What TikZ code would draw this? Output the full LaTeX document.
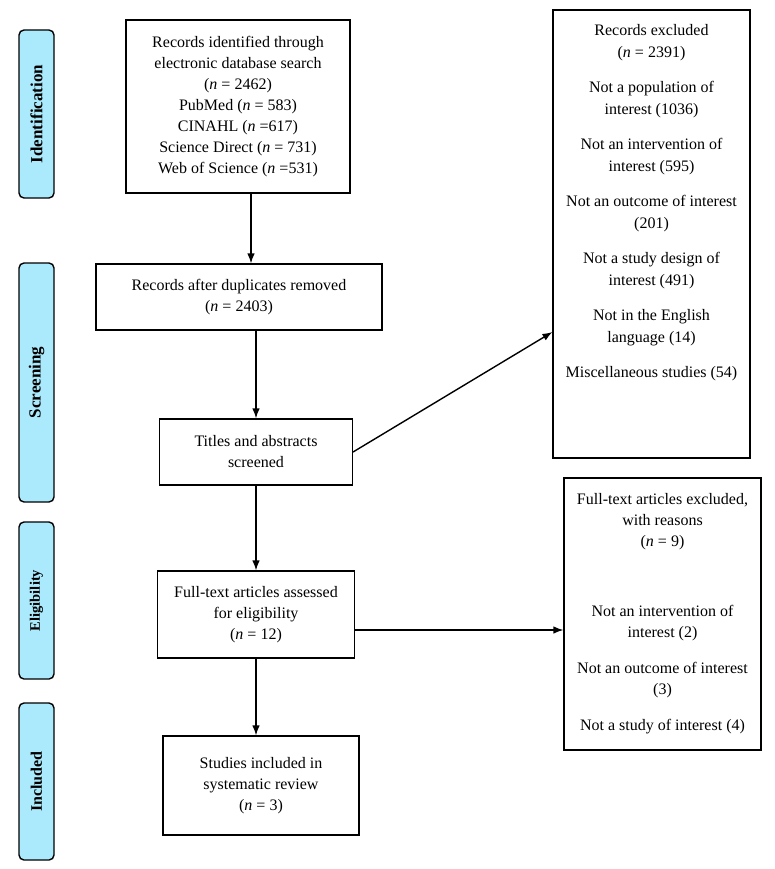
\documentclass[tikz,border=0pt]{standalone}
\usepackage{fontspec}
\setmainfont{Liberation Serif}
\usetikzlibrary{calc,arrows.meta}
\definecolor{phasefill}{RGB}{170,234,252}
\tikzset{x=1pt, y=-1pt,
    flow box/.style={draw=black, line width=1.1pt, align=center, inner sep=2pt,
           font=\fontsize{16}{21}\selectfont},
    phase label/.style={draw=black, line width=1.4pt, fill=phasefill,
           rounded corners=5pt, rotate=90, minimum height=35pt, inner sep=0pt},
    flow arrow/.style={-{Latex[length=10pt,width=7.5pt]}, line width=1.4pt}
    }
\def\Phase#1#2#3#4#5{%
 \pgfmathsetmacro\phaselen{#3-#2}
 \pgfmathsetmacro\phasemid{(#2+#3)/2}
 \node[phase label, minimum width=\phaselen pt,
       font=\bfseries\fontsize{#4}{#4}\selectfont] (#1) at (36.5,\phasemid) {#5};
}

\begin{document}
\begin{tikzpicture}
\useasboundingbox (0,0) rectangle (774,869);
\Phase{identification}{30}{198}{17}{Identification}
\Phase{screening}{263}{502}{17}{Screening}
\Phase{eligibility}{522}{679}{14.5}{Eligibility}
\Phase{included}{703}{860}{16}{Included}

\node[flow box, minimum width=224pt, minimum height=173pt] (search) at (238,106.5)
  {Records identified through\\ electronic database search\\ (\textit{n} = 2462)\\
   PubMed (\textit{n} = 583)\\ CINAHL (\textit{n} =617)\\
   Science Direct (\textit{n} = 731)\\ Web of Science (\textit{n} =531)};
\node[flow box, minimum width=286pt, minimum height=66pt] (dup) at (239,297)
  {Records after duplicates removed\\ (\textit{n} = 2403)};
\node[flow box, minimum width=193pt, minimum height=66pt] (screen) at (256,452)
  {Titles and abstracts\\ screened};
\node[flow box, minimum width=197pt, minimum height=87pt] (fta) at (256,614.5)
  {Full-text articles assessed\\ for eligibility\\ (\textit{n} = 12)};
\node[flow box, minimum width=196pt, minimum height=99pt] (incl) at (261,785.5)
  {Studies included in\\ systematic review\\ (\textit{n} = 3)};

\node[flow box, minimum width=197pt, minimum height=448pt] (excl) at (651.5,234) {};
\node[align=center, anchor=north, inner sep=2pt, font=\fontsize{16}{21.5}\selectfont]
  (excltext) at ([yshift=-13pt]excl.north)
  {Records excluded\\ (\textit{n} = 2391)\\[14pt]
   Not a population of\\ interest (1036)\\[14pt]
   Not an intervention of\\ interest (595)\\[14pt]
   Not an outcome of interest\\ (201)\\[14pt]
   Not a study design of\\ interest (491)\\[14pt]
   Not in the English\\ language (14)\\[14pt]
   Miscellaneous studies (54)};
\node[flow box, minimum width=197pt, minimum height=272pt] (ftx) at (662.5,614)
  {Full-text articles excluded,\\ with reasons\\ (\textit{n} = 9)\\[49pt]
   Not an intervention of\\ interest (2)\\[15pt]
   Not an outcome of interest\\ (3)\\[15pt]
   Not a study of interest (4)};

\coordinate (searchout) at ([xshift=13pt]search.south);
\coordinate (ftaout) at ([yshift=-15.5pt]fta.east);
\draw[flow arrow] (searchout) -- (searchout |- dup.north);
\draw[flow arrow] (screen.north |- dup.south) -- (screen.north);
\draw[flow arrow] (screen.east) -- ([yshift=-98pt]excl.west);
\draw[flow arrow] (screen.south) -- (fta.north);
\draw[flow arrow] (ftaout) -- (ftaout -| ftx.west);
\draw[flow arrow] (fta.south) -- (fta.south |- incl.north);
\end{tikzpicture}
\end{document}
